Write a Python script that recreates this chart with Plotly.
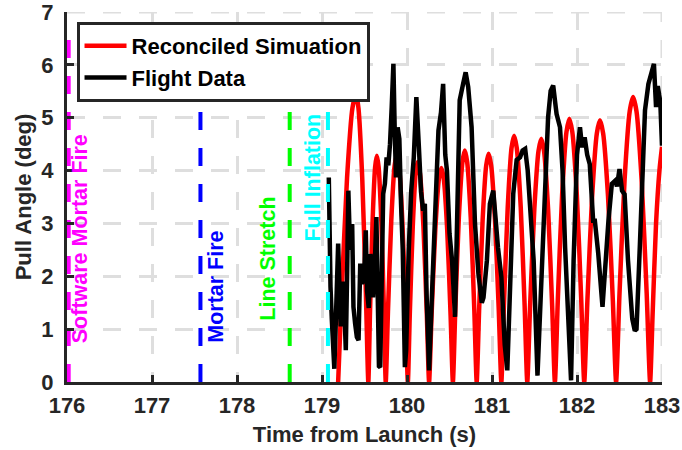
import plotly.graph_objects as go

# ---------------- data ----------------
sim_x = [179.19, 179.232, 179.295, 179.358, 179.40, 179.429, 179.473, 179.516, 179.545,
         179.565, 179.595, 179.625, 179.645, 179.666, 179.698, 179.729, 179.75,
         179.776, 179.815, 179.854, 179.88, 179.906, 179.945, 179.984, 180.01,
         180.033, 180.068, 180.102, 180.125, 180.152, 180.193, 180.233, 180.26,
         180.289, 180.333, 180.376, 180.405, 180.432, 180.473, 180.513, 180.54,
         180.568, 180.61, 180.652, 180.68, 180.708, 180.75, 180.792, 180.82,
         180.848, 180.89, 180.932, 180.96, 180.99, 181.035, 181.08, 181.11,
         181.14, 181.185, 181.23, 181.26, 181.291, 181.338, 181.384, 181.415,
         181.448, 181.498, 181.547, 181.58, 181.612, 181.66, 181.708, 181.74,
         181.774, 181.825, 181.876, 181.91, 181.945, 181.998, 182.05, 182.085,
         182.122, 182.178, 182.233, 182.27, 182.308, 182.365, 182.422, 182.46,
         182.50, 182.56, 182.62, 182.66, 182.70, 182.76, 182.82, 182.86,
         182.89, 182.93, 182.97, 183.0]
sim_y = [0, 1.69, 3.87, 5.18, 5.45, 5.18, 3.87, 1.69, 0,
         1.33, 3.04, 4.07, 4.28, 4.07, 3.04, 1.33, 0,
         1.33, 3.05, 4.09, 4.3, 4.09, 3.05, 1.33, 0,
         1.29, 2.95, 3.95, 4.16, 3.95, 2.95, 1.29, 0,
         1.26, 2.88, 3.85, 4.05, 3.85, 2.88, 1.26, 0,
         1.36, 3.11, 4.16, 4.38, 4.16, 3.11, 1.36, 0,
         1.34, 3.07, 4.10, 4.32, 4.10, 3.07, 1.34, 0,
         1.44, 3.31, 4.43, 4.66, 4.43, 3.31, 1.44, 0,
         1.43, 3.27, 4.37, 4.60, 4.37, 3.27, 1.43, 0,
         1.54, 3.54, 4.73, 4.98, 4.73, 3.54, 1.54, 0,
         1.53, 3.51, 4.70, 4.95, 4.70, 3.51, 1.53, 0,
         1.67, 3.83, 5.12, 5.39, 5.12, 3.83, 1.67, 0,
         1.3, 3.0, 4.0, 4.45]

flt_x = [179.08, 179.09, 179.10, 179.115, 179.13, 179.145, 179.16, 179.175, 179.19, 179.205,
         179.22, 179.235, 179.25, 179.265, 179.28, 179.295, 179.31, 179.325, 179.34, 179.355,
         179.37, 179.39, 179.41, 179.43, 179.45, 179.47, 179.485, 179.50, 179.515, 179.53,
         179.55, 179.57, 179.585, 179.60, 179.62, 179.64, 179.655, 179.67, 179.685, 179.70,
         179.72, 179.74, 179.76, 179.78, 179.80, 179.82, 179.84, 179.855, 179.87, 179.89,
         179.91, 179.93, 179.95, 179.975, 179.99, 180.02, 180.05, 180.08, 180.11, 180.14,
         180.165, 180.19, 180.21, 180.23, 180.26, 180.29, 180.31, 180.33, 180.37, 180.40,
         180.425, 180.45, 180.47, 180.50, 180.53, 180.565, 180.59, 180.61, 180.62, 180.66,
         180.69, 180.72, 180.76, 180.80, 180.84, 180.88, 180.90, 180.94, 180.975, 181.015,
         181.04, 181.07, 181.11, 181.15, 181.18, 181.21, 181.25, 181.29, 181.33, 181.36,
         181.39, 181.42, 181.46, 181.49, 181.535, 181.57, 181.61, 181.64, 181.66, 181.69,
         181.72, 181.75, 181.76, 181.80, 181.83, 181.86, 181.93, 181.96, 182.00, 182.035,
         182.06, 182.09, 182.12, 182.15, 182.19, 182.21, 182.25, 182.30, 182.33, 182.37,
         182.41, 182.45, 182.47, 182.50, 182.53, 182.56, 182.60, 182.65, 182.68, 182.70,
         182.74, 182.77, 182.80, 182.84, 182.87, 182.905, 182.93, 182.95, 182.98, 183.0]
flt_y = [3.87, 2.6, 1.8, 1.2, 0.45, 0.25, 1.0, 1.6, 2.62, 1.8,
         1.05, 1.6, 1.9, 1.3, 0.6, 2.0, 3.62, 2.8, 2.5, 2.99,
         1.42, 1.1, 0.85, 0.79, 2.24, 1.86, 1.92, 2.2, 2.87, 1.73,
         1.4, 2.42, 2.2, 1.6, 2.17, 3.12, 1.5, 0.3, 0.28, 1.8,
         3.56, 3.75, 4.25, 4.1, 4.5, 5.2, 6.02, 4.8, 3.87, 4.82,
         4.6, 3.37, 2.5, 0.28, 0.6, 2.49, 3.62, 4.25, 5.39, 4.44,
         3.6, 3.24, 3.37, 1.67, 0.22, 1.5, 2.3, 3.56, 4.76, 5.1,
         5.64, 4.3, 4.0, 2.81, 2.3, 1.23, 3.0, 4.5, 5.33, 5.64,
         5.86, 5.58, 4.82, 2.99, 2.05, 1.5, 1.6, 2.3, 3.37, 3.62,
         3.12, 2.55, 1.99, 0.7, 0.22, 1.6, 3.56, 4.2, 4.25, 4.38,
         4.41, 4.0, 3.1, 2.3, 0.12, 1.5, 3.5, 4.5, 5.01, 5.51,
         5.61, 5.2, 5.07, 4.82, 4.0, 2.55, 0.03, 2.3, 4.3, 4.82,
         4.44, 4.63, 4.3, 4.12, 3.05, 3.05, 2.43, 1.42, 2.2, 3.05,
         3.75, 3.81, 3.7, 4.03, 3.62, 3.55, 2.3, 1.2, 0.97, 1.0,
         2.6, 3.75, 5.14, 5.64, 5.83, 6.02, 5.2, 5.6, 5.3, 4.47]

event_names = ["Software Mortar Fire", "Mortar Fire", "Line Stretch", "Full Inflation"]
event_t = [176.02, 177.57, 178.62, 179.07]
event_top = [6.68, 5.3, 5.3, 5.3]
event_colors = ["#ff00ff", "#0000ff", "#00ff00", "#00ffff"]
label_x = [176.15, 177.75, 178.37, 178.90]
label_y = [0.70, 0.70, 1.13, 2.61]

x_ticks = [176, 177, 178, 179, 180, 181, 182, 183]
y_ticks = [0, 1, 2, 3, 4, 5, 6, 7]

# ---------------- figure ----------------
FONT = "Liberation Sans, Arial, Helvetica, sans-serif"
AX = "#262626"
GRID = "#dedede"
FS = 22

fig = go.Figure()
fig.add_trace(go.Scatter(x=sim_x, y=sim_y, mode="lines", name="Reconciled Simuation",
                         line=dict(color="#ff0000", width=4.5, shape="spline", smoothing=0.6)))
fig.add_trace(go.Scatter(x=flt_x, y=flt_y, mode="lines", name="Flight Data",
                         line=dict(color="#000000", width=4.5)))
for t, top, c in zip(event_t, event_top, event_colors):
    fig.add_trace(go.Scatter(x=[t, t], y=[0, top], mode="lines", showlegend=False,
                             hoverinfo="skip", line=dict(color=c, width=4, dash="18px,18px")))

for name, lx, ly, c in zip(event_names, label_x, label_y, event_colors):
    fig.add_annotation(x=lx, y=ly, xref="x", yref="y", text="<b>" + name + "</b>",
                       textangle=-90, showarrow=False, xanchor="center", yanchor="bottom",
                       font=dict(family=FONT, size=21.5, color=c))

# grid lines lying on the far range edges (plotly omits them)
fig.add_shape(type="line", xref="paper", yref="y", x0=0, x1=1, y0=y_ticks[-1], y1=y_ticks[-1],
              line=dict(color=GRID, width=3, dash="18px,18px"), layer="below")
fig.add_shape(type="line", xref="x", yref="paper", x0=x_ticks[-1], x1=x_ticks[-1], y0=0, y1=1,
              line=dict(color=GRID, width=3, dash="18px,18px"), layer="below")

fig.update_layout(
    width=682, height=450,
    margin=dict(l=67, r=20, t=12, b=68, pad=0, autoexpand=False),
    paper_bgcolor="white", plot_bgcolor="white",
    font=dict(family=FONT, size=FS, color=AX),
    legend=dict(x=0.016, y=0.973, xanchor="left", yanchor="top",
                bgcolor="white", bordercolor=AX, borderwidth=3,
                font=dict(family=FONT, size=FS, color="#000000", weight="bold"),
                tracegroupgap=0, itemwidth=42),
    showlegend=True,
)
fig.update_xaxes(range=[176, 183], tickvals=x_ticks, ticktext=[str(v) for v in x_ticks],
                 showline=True, linecolor=AX, linewidth=3, mirror=False, automargin=False,
                 ticks="inside", ticklen=7, tickwidth=3, tickcolor=AX,
                 showgrid=True, gridcolor=GRID, gridwidth=3, griddash="18px,18px",
                 zeroline=False, ticklabelstandoff=2, ticklabeloverflow="allow",
                 tickfont=dict(family=FONT, size=FS, color=AX, weight="bold"),
                 title=dict(text="Time from Launch (s)", standoff=10,
                            font=dict(family=FONT, size=FS, color=AX, weight="bold")))
fig.update_yaxes(range=[0, 7], tickvals=y_ticks, ticktext=[str(v) for v in y_ticks],
                 showline=True, linecolor=AX, linewidth=3, mirror=False, automargin=False,
                 ticks="inside", ticklen=7, tickwidth=3, tickcolor=AX,
                 showgrid=True, gridcolor=GRID, gridwidth=3, griddash="18px,18px",
                 zeroline=False, ticklabelstandoff=6, ticklabeloverflow="allow",
                 tickfont=dict(family=FONT, size=FS, color=AX, weight="bold"),
                 title=dict(text="Pull Angle (deg)", standoff=4,
                            font=dict(family=FONT, size=FS, color=AX, weight="bold")))

fig.write_html("out.html")
